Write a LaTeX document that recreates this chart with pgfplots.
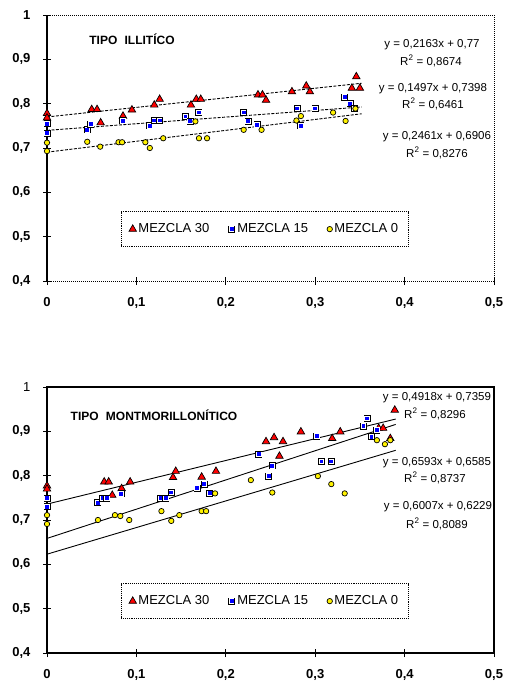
\documentclass[border=0pt]{standalone}
\usepackage{pgfplots}
\pgfplotsset{compat=1.18}
\usepackage{fontspec}
\setmainfont{Liberation Sans}

% blue square with a white ring, like the Excel marker
\pgfdeclareplotmark{bsq}{%
  \pgfpathrectangle{\pgfpoint{-\pgfplotmarksize}{-\pgfplotmarksize}}{\pgfpoint{2\pgfplotmarksize}{2\pgfplotmarksize}}%
  \pgfsetfillcolor{black}\pgfusepathqfill
  \pgfpathrectangle{\pgfpoint{-0.78\pgfplotmarksize}{-0.78\pgfplotmarksize}}{\pgfpoint{1.56\pgfplotmarksize}{1.56\pgfplotmarksize}}%
  \pgfsetfillcolor{white}\pgfusepathqfill
  \pgfpathrectangle{\pgfpoint{-0.55\pgfplotmarksize}{-0.55\pgfplotmarksize}}{\pgfpoint{1.1\pgfplotmarksize}{1.1\pgfplotmarksize}}%
  \pgfsetfillcolor{blue}\pgfusepathqfill
}

\pgfplotsset{
  chartbase/.style={
    anchor=south west, scale only axis, width=447pt, height=266pt,
    xmin=0, xmax=0.5, ymin=0.4, ymax=1,
    xtick={0,0.1,0.2,0.3,0.4,0.5},
    ytick={0.4,0.5,0.6,0.7,0.8,0.9,1},
    xtick pos=bottom, ytick pos=left,
    tick align=center, major tick length=8pt,
    tick style={black, line width=1pt},
    /pgf/number format/.cd, use comma, assume math mode=true, /pgfplots/.cd,
    ticklabel style={font=\fontsize{13}{14}\selectfont\bfseries},
    yticklabel style={xshift=-9pt},
    xticklabel style={yshift=-9pt},
    clip=false,
    legend columns=3,
    legend style={at={(rel axis cs:0.4866,0.195)}, anchor=center,
      draw=black, densely dotted, line width=0.9pt,
      font=\fontsize{13}{15}\selectfont, inner xsep=8pt, inner ysep=10pt,
      /tikz/every even column/.append style={column sep=17pt}},
    legend image post style={solid},
    legend image code/.code={\draw[#1] plot coordinates {(0pt,0pt)};},
  },
  m30/.style={only marks, mark=triangle*, mark size=4.3pt,
    mark options={solid, fill=red, draw=black, line width=0.7pt}},
  m15/.style={only marks, mark=bsq, mark size=3.5pt, mark options={solid}},
  m0/.style={only marks, mark=*, mark size=2.7pt,
    mark options={solid, fill=yellow, draw=black, line width=0.7pt}},
}

\begin{document}
\begin{tikzpicture}
\useasboundingbox (0,0) rectangle (507pt,-688pt);

% ---------- TIPO ILLITICO ----------
\begin{axis}[chartbase, at={(47pt,-281pt)}, axis line style={draw=none}]
\draw[black, line width=1pt, densely dotted] (rel axis cs:0,0) -- (rel axis cs:1,0) -- (rel axis cs:1,1) -- (rel axis cs:0,1);
\draw[black, line width=1.2pt] (rel axis cs:0,0) -- (rel axis cs:0,1);
\addplot[m30] coordinates {
(0,0.778)(0,0.768)(0.050,0.787)(0.056,0.787)(0.060,0.757)(0.085,0.772)(0.095,0.786)
(0.120,0.797)(0.126,0.810)(0.161,0.797)(0.167,0.810)(0.172,0.810)(0.236,0.820)
(0.241,0.820)(0.245,0.808)(0.274,0.827)(0.290,0.840)(0.294,0.827)(0.341,0.835)
(0.346,0.861)(0.350,0.835)};
\addlegendentry{MEZCLA 30}
\addplot[m15] coordinates {
(0,0.755)(0,0.733)(0.045,0.741)(0.049,0.754)(0.085,0.761)(0.115,0.750)(0.120,0.762)
(0.126,0.762)(0.155,0.771)(0.160,0.760)(0.170,0.780)(0.220,0.780)(0.225,0.760)
(0.235,0.752)(0.280,0.789)(0.284,0.750)(0.300,0.789)(0.333,0.815)(0.339,0.800)
(0.344,0.789)};
\addlegendentry{MEZCLA 15}
\addplot[m0] coordinates {
(0,0.712)(0,0.693)(0.045,0.714)(0.0595,0.703)(0.080,0.713)(0.084,0.713)(0.110,0.713)
(0.115,0.700)(0.130,0.722)(0.166,0.760)(0.170,0.722)(0.179,0.722)(0.220,0.741)
(0.240,0.741)(0.279,0.762)(0.284,0.772)(0.320,0.780)(0.334,0.761)(0.345,0.789)};
\addlegendentry{MEZCLA 0}
% trend lines
\addplot[forget plot, black, line width=0.9pt, dash pattern=on 3pt off 1.5pt] coordinates {(0,0.77)(0.352,0.8461)};
\addplot[forget plot, black, line width=0.9pt, dash pattern=on 3pt off 1.5pt] coordinates {(0,0.7398)(0.352,0.7925)};
\addplot[forget plot, black, line width=0.9pt, dash pattern=on 3pt off 1.5pt] coordinates {(0,0.6906)(0.352,0.7772)};
\end{axis}

\node[font=\fontsize{12}{14}\selectfont\bfseries] at (132pt,-39pt) {TIPO\hspace{0.6em}ILLITÍCO};
\begin{scope}[every node/.style={font=\fontsize{11.5}{13}\selectfont}]
\node at (432pt,-45pt) {y = 0,2163x + 0,77};
\node at (431pt,-61pt) {R\textsuperscript{2} = 0,8674};
\node at (433pt,-89pt) {y = 0,1497x + 0,7398};
\node at (433pt,-104pt) {R\textsuperscript{2} = 0,6461};
\node at (437pt,-137pt) {y = 0,2461x + 0,6906};
\node at (437pt,-153pt) {R\textsuperscript{2} = 0,8276};
\end{scope}

% ---------- TIPO MONTMORILLONITICO ----------
\begin{axis}[chartbase, at={(47pt,-653pt)}, axis line style={black, line width=1.2pt},
  yticklabels={{0,4},{0,5},{0,6},{0,7},{0,8},{0,9},{\mdseries 1}}]
\addplot[m30] coordinates {
(0,0.777)(0,0.770)(0.064,0.786)(0.069,0.786)(0.073,0.756)(0.0835,0.771)(0.093,0.786)
(0.141,0.796)(0.144,0.810)(0.173,0.797)(0.189,0.810)(0.245,0.877)(0.254,0.886)
(0.264,0.877)(0.260,0.844)(0.284,0.899)(0.319,0.884)(0.328,0.899)(0.371,0.907)
(0.376,0.907)(0.384,0.884)(0.389,0.948)};
\addlegendentry{MEZCLA 30}
\addplot[m15] coordinates {
(0,0.749)(0,0.730)(0.057,0.739)(0.062,0.749)(0.067,0.749)(0.083,0.759)(0.1275,0.749)
(0.133,0.749)(0.139,0.762)(0.168,0.772)(0.176,0.781)(0.182,0.760)(0.237,0.848)
(0.248,0.799)(0.252,0.822)(0.302,0.889)(0.307,0.832)(0.318,0.832)(0.354,0.912)
(0.358,0.929)(0.363,0.888)(0.369,0.903)};
\addlegendentry{MEZCLA 15}
\addplot[m0] coordinates {
(0,0.711)(0,0.691)(0.057,0.700)(0.076,0.711)(0.082,0.709)(0.092,0.700)(0.128,0.720)
(0.139,0.698)(0.148,0.711)(0.173,0.720)(0.178,0.720)(0.188,0.760)(0.228,0.790)
(0.252,0.762)(0.303,0.799)(0.318,0.781)(0.333,0.760)(0.369,0.880)(0.378,0.871)
(0.384,0.880)};
\addlegendentry{MEZCLA 0}
\addplot[forget plot, black, line width=0.9pt] coordinates {(0,0.7359)(0.39,0.9277)};
\addplot[forget plot, black, line width=0.9pt] coordinates {(0,0.6585)(0.39,0.9156)};
\addplot[forget plot, black, line width=0.9pt] coordinates {(0,0.6229)(0.39,0.8572)};
\end{axis}

\node[font=\fontsize{12}{14}\selectfont\bfseries] at (154pt,-415pt) {TIPO\hspace{0.6em}MONTMORILLONÍTICO};
\begin{scope}[every node/.style={font=\fontsize{11.5}{13}\selectfont}]
\node at (437pt,-398pt) {y = 0,4918x + 0,7359};
\node at (435pt,-414pt) {R\textsuperscript{2} = 0,8296};
\node at (437pt,-463pt) {y = 0,6593x + 0,6585};
\node at (435pt,-478pt) {R\textsuperscript{2} = 0,8737};
\node at (438pt,-507pt) {y = 0,6007x + 0,6229};
\node at (437pt,-524pt) {R\textsuperscript{2} = 0,8089};
\end{scope}
\end{tikzpicture}
\end{document}
